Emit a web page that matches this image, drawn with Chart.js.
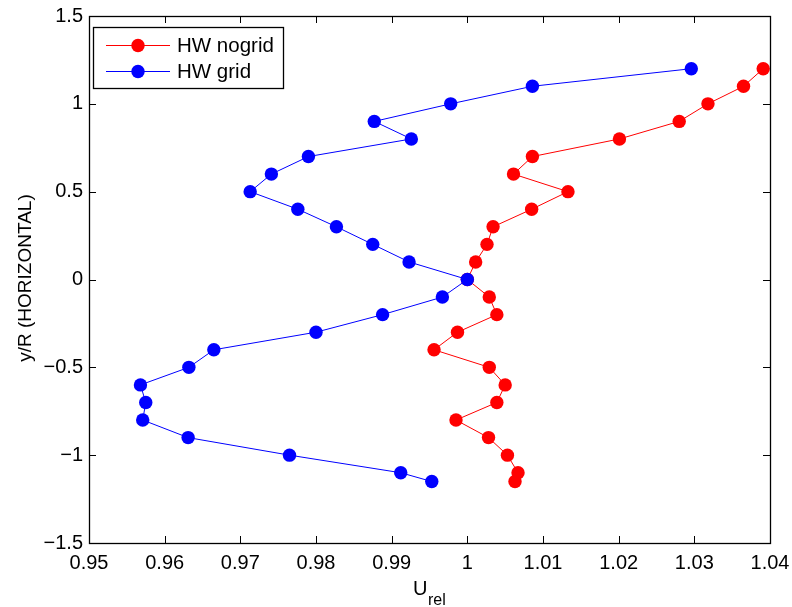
<!DOCTYPE html>
<html>
<head>
<meta charset="utf-8">
<script src="https://cdn.jsdelivr.net/npm/chart.js@4/dist/chart.umd.min.js"></script>
<style>
  html, body { margin: 0; padding: 0; background: #fff; }
  #wrap { width: 792px; height: 607px; position: relative; }
</style>
</head>
<body>
<div id="wrap"><canvas id="c" width="792" height="607"></canvas></div>
<script>
// ---- data ----
const yLevels = [1.2, 1.1, 1.0, 0.9, 0.8, 0.7, 0.6, 0.5, 0.4, 0.3, 0.2, 0.1, 0.0,
  -0.1, -0.2, -0.3, -0.4, -0.5, -0.6, -0.7, -0.8, -0.9, -1.0, -1.1, -1.15];
const noGridU = [1.0391, 1.0365, 1.0318, 1.0280, 1.0201, 1.0086, 1.0061, 1.0133, 1.0085,
  1.0034, 1.0026, 1.0011, 1.0000, 1.0029, 1.0039, 0.9987, 0.9956, 1.0029, 1.0050,
  1.0039, 0.9985, 1.0028, 1.0053, 1.0067, 1.0063];
const gridU = [1.0296, 1.0086, 0.9978, 0.9877, 0.9926, 0.9790, 0.9741, 0.9713, 0.9776,
  0.9827, 0.9875, 0.9923, 1.0000, 0.9967, 0.9888, 0.9800, 0.9665, 0.9632, 0.9568,
  0.9575, 0.9571, 0.9631, 0.9765, 0.9912, 0.9953];
const seriesNames = ['HW nogrid', 'HW grid'];
const seriesColors = ['#ff0000', '#0000ff'];
const xTickRange = [0.95, 1.04, 0.01];
const yTickRange = [-1.5, 1.5, 0.5];
const xTitleMain = 'U';
const xTitleSub = 'rel';
const yTitle = 'y/R (HORIZONTAL)';

const FONT = '"Liberation Sans", Arial, Helvetica, sans-serif';

function pts(xs, ys) { return xs.map((x, i) => ({ x: x, y: ys[i] })); }

const framePlugin = {
  id: 'frame',
  afterDraw(chart) {
    const ctx = chart.ctx;
    const a = chart.chartArea;
    const xs = chart.scales.x, ys = chart.scales.y;
    ctx.save();
    ctx.strokeStyle = '#000';
    ctx.lineWidth = 1;
    // inward ticks
    const tl = 7;
    ctx.beginPath();
    xs.ticks.forEach(t => {
      const px = Math.round(xs.getPixelForValue(t.value)) + 0.5;
      ctx.moveTo(px, a.bottom); ctx.lineTo(px, a.bottom - tl);
      ctx.moveTo(px, a.top); ctx.lineTo(px, a.top + tl);
    });
    ys.ticks.forEach(t => {
      const py = Math.round(ys.getPixelForValue(t.value)) + 0.5;
      ctx.moveTo(a.left, py); ctx.lineTo(a.left + tl, py);
      ctx.moveTo(a.right, py); ctx.lineTo(a.right - tl, py);
    });
    ctx.stroke();
    // frame
    ctx.lineWidth = 1.3;
    ctx.strokeRect(Math.round(a.left) + 0.5, Math.round(a.top) + 0.5,
      Math.round(a.right - a.left), Math.round(a.bottom - a.top));

    // legend
    ctx.lineWidth = 1.3;
    const lx = 93.5, ly = 27.5, lw = 190, lh = 61;
    ctx.fillStyle = '#fff';
    ctx.fillRect(lx, ly, lw, lh);
    ctx.strokeRect(lx, ly, lw, lh);
    ctx.lineWidth = 1;
    const rows = [45.5, 71.5];
    ctx.font = '20.5px ' + FONT;
    ctx.textBaseline = 'middle';
    ctx.textAlign = 'left';
    seriesNames.forEach((name, i) => {
      const yy = rows[i];
      ctx.strokeStyle = seriesColors[i];
      ctx.beginPath(); ctx.moveTo(106, yy); ctx.lineTo(170, yy); ctx.stroke();
      ctx.fillStyle = seriesColors[i];
      ctx.beginPath(); ctx.arc(138, yy, 6.7, 0, Math.PI * 2); ctx.fill();
      ctx.fillStyle = '#000';
      ctx.fillText(name, 177, yy + 1);
    });

    // axis titles
    ctx.fillStyle = '#000';
    ctx.textBaseline = 'alphabetic';
    ctx.font = '20px ' + FONT;
    ctx.fillText(xTitleMain, 413, 595);
    const uw = ctx.measureText(xTitleMain).width;
    ctx.font = '16px ' + FONT;
    ctx.fillText(xTitleSub, 413 + uw + 0.5, 604.5);

    ctx.font = '19px ' + FONT;
    ctx.translate(31, 278);
    ctx.rotate(-Math.PI / 2);
    ctx.textAlign = 'center';
    ctx.fillText(yTitle, 0, 0);
    ctx.restore();
  }
};

function fmt(v) {
  const s = String(Number(v.toFixed(2)));
  return s.replace('-', '\u2212');
}

new Chart(document.getElementById('c'), {
  type: 'scatter',
  data: {
    datasets: [
      { label: seriesNames[0], data: pts(noGridU, yLevels), showLine: true,
        borderColor: seriesColors[0], backgroundColor: seriesColors[0],
        borderWidth: 1, pointRadius: 6.7, pointBorderWidth: 0, pointHoverRadius: 6.7, order: 1 },
      { label: seriesNames[1], data: pts(gridU, yLevels), showLine: true,
        borderColor: seriesColors[1], backgroundColor: seriesColors[1],
        borderWidth: 1, pointRadius: 6.7, pointBorderWidth: 0, pointHoverRadius: 6.7, order: 0 }
    ]
  },
  options: {
    responsive: false,
    animation: false,
    devicePixelRatio: 1,
    layout: { padding: { left: 0, right: 22, top: 16, bottom: 0 } },
    plugins: { legend: { display: false }, tooltip: { enabled: false } },
    scales: {
      x: {
        type: 'linear', min: xTickRange[0], max: xTickRange[1],
        grid: { display: false, drawTicks: false },
        border: { display: false },
        ticks: { stepSize: xTickRange[2], padding: 8, color: '#000',
          font: { family: FONT, size: 20 }, maxRotation: 0, autoSkip: false,
          callback: v => fmt(v) },
        afterFit(s) { s.height = 64; s.paddingLeft = 0; s.paddingRight = 0; }
      },
      y: {
        type: 'linear', min: yTickRange[0], max: yTickRange[1],
        grid: { display: false, drawTicks: false },
        border: { display: false },
        ticks: { stepSize: yTickRange[2], padding: 6, color: '#000',
          font: { family: FONT, size: 20 }, autoSkip: false,
          callback: v => fmt(v) },
        afterFit(s) { s.width = 89; s.paddingTop = 0; s.paddingBottom = 0; }
      }
    }
  },
  plugins: [framePlugin]
});
</script>
</body>
</html>
